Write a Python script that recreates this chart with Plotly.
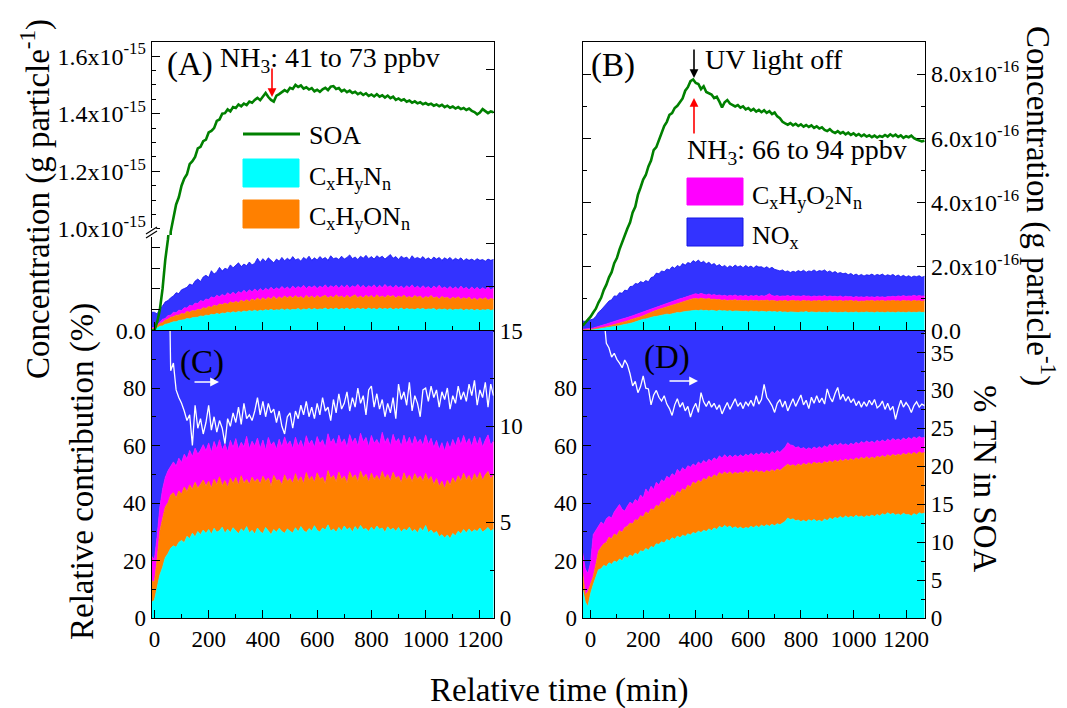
import plotly.graph_objects as go

W, H = 1067, 708
OFF = 8  # the page body margin shifts the figure by this many pixels
def px(x): return (x - OFF) / W
def py(y): return 1 - (y - OFF) / H

# ---------------- time grids (min) ----------------
T_AC = list(range(-10, 1260, 10))   # panels A and C
T_BD = list(range(-30, 1280, 10))   # panels B and D

# ---------------- Panel A (units of 1e-17 g particle^-1) ----------------
A_SOA = [0, 0, 2, 5, 10, 17, 22, 99, 104, 108.5,
         111, 115, 117.5, 119, 122.5, 123.5, 125, 128, 128.5, 130.5,
         131, 133.5, 134, 135, 137.5, 138, 140, 140.2, 141.5, 140.8,
         142.3, 142, 143.2, 142.6, 143.5, 143, 144.2, 143.8, 144.8, 145.5,
         144.7, 146, 147.2, 145.8, 144.8, 144.2, 146.3, 146.8, 147.5, 148.2,
         147.6, 149, 148.6, 150, 149.3, 149.8, 148.7, 149.2, 148.4, 148.9,
         147.8, 148.3, 147.6, 148.5, 149, 148.2, 149.4, 149.6, 148.6, 148.9,
         147.8, 148.3, 147.5, 148, 147.2, 147.6, 146.8, 147.3, 146.5, 147.1,
         146.2, 146.7, 146, 146.8, 145.9, 146.4, 145.6, 146.3, 145.4, 145.9,
         144.8, 145.3, 144.6, 145, 144.2, 144.6, 143.8, 144.3, 143.6, 144,
         143.3, 143.7, 143.1, 143.5, 142.8, 143.2, 142.6, 143.1, 142.3, 142.8,
         142.1, 142.5, 141.8, 142.3, 141.6, 142, 141.3, 141.8, 141, 140.6,
         139.8, 140.4, 141.6, 141, 140.2, 140.8, 140.5]

# cumulative (stacked) tops
A_CUM_CXHYNN = [0.3, 0.3, 0.6, 1.0, 1.1, 1.5, 1.6, 1.9, 2.1, 2.1,
                2.4, 2.5, 2.6, 2.9, 2.8, 3.1, 3.2, 3.2, 3.5, 3.4,
                3.7, 3.6, 3.9, 3.8, 4.1, 3.9, 4.2, 4.1, 4.4, 4.2,
                4.5, 4.3, 4.6, 4.4, 4.7, 4.5, 4.8, 4.6, 4.9, 4.6,
                4.9, 4.7, 5.0, 4.8, 5.1, 4.8, 5.0, 4.9, 5.2, 4.9,
                5.2, 4.9, 5.1, 5.0, 5.3, 4.9, 5.2, 5.0, 5.3, 5.0,
                5.3, 5.0, 5.2, 5.1, 5.4, 5.0, 5.3, 5.1, 5.4, 5.0,
                5.3, 5.1, 5.4, 5.0, 5.3, 5.1, 5.4, 5.1, 5.3, 5.0,
                5.4, 5.1, 5.3, 5.0, 5.4, 5.1, 5.3, 5.1, 5.4, 5.0,
                5.3, 5.1, 5.4, 5.0, 5.3, 5.1, 5.2, 5.0, 5.3, 5.1,
                5.3, 5.0, 5.2, 5.1, 5.3, 4.9, 5.2, 5.0, 5.2, 4.9,
                5.2, 4.9, 5.1, 5.0, 5.2, 4.8, 5.1, 4.9, 5.1, 4.8,
                5.1, 4.8, 5.0, 4.9, 5.1, 4.8, 5.0]
A_CUM_CXHYONN = [0.5, 0.5, 1.0, 1.7, 1.9, 2.5, 2.7, 3.2, 3.3, 3.7,
                 3.7, 4.1, 4.0, 4.6, 4.4, 4.8, 4.7, 5.1, 5.0, 5.5,
                 5.3, 5.8, 5.6, 6.1, 5.9, 6.4, 6.2, 6.6, 6.3, 6.9,
                 6.6, 7.0, 6.7, 7.3, 6.9, 7.4, 7.0, 7.6, 7.2, 7.8,
                 7.3, 7.9, 7.4, 8.0, 7.5, 8.2, 7.6, 8.1, 7.7, 8.3,
                 7.8, 8.3, 7.8, 8.4, 7.9, 8.2, 7.7, 8.5, 7.9, 8.3,
                 7.8, 8.4, 7.9, 8.2, 8.5, 7.8, 8.3, 7.9, 8.6, 8.0,
                 8.3, 7.8, 8.5, 7.9, 8.2, 8.6, 7.9, 8.3, 7.8, 8.5,
                 8.0, 8.4, 7.8, 8.6, 8.0, 8.3, 7.9, 8.5, 8.1, 8.4,
                 7.8, 8.3, 8.0, 8.5, 7.9, 8.2, 7.8, 8.4, 8.0, 8.3,
                 7.7, 8.2, 7.9, 8.4, 7.8, 8.1, 7.6, 8.2, 7.8, 8.0,
                 7.5, 8.0, 7.7, 8.1, 7.5, 7.9, 7.6, 8.0, 7.4, 7.8,
                 7.3, 7.8, 7.5, 7.9, 7.3, 7.7, 7.5]
A_CUM_CXHYO2NN = [0.7, 0.7, 1.4, 2.0, 2.7, 2.9, 3.6, 3.7, 4.4, 4.3,
                  4.9, 4.8, 5.5, 5.4, 6.1, 5.9, 6.6, 6.5, 7.2, 7.0,
                  7.6, 7.4, 8.1, 7.8, 8.5, 8.1, 8.7, 8.3, 9.1, 8.6,
                  9.2, 8.7, 9.4, 9.0, 9.7, 9.1, 9.8, 9.3, 10.0, 9.4,
                  10.1, 9.5, 10.2, 9.7, 10.4, 9.8, 10.3, 9.9, 10.6, 10.0,
                  10.5, 9.9, 10.7, 10.1, 10.6, 10.2, 10.9, 10.1, 10.7, 10.3,
                  10.8, 10.1, 10.7, 10.3, 11.0, 10.2, 10.8, 10.4, 10.9, 10.2,
                  10.9, 10.3, 11.0, 10.2, 10.8, 10.4, 11.1, 10.3, 10.9, 10.2,
                  10.8, 10.4, 11.0, 10.2, 10.9, 10.3, 11.1, 10.4, 10.8, 10.2,
                  10.9, 10.3, 10.7, 10.1, 10.8, 10.3, 11.0, 10.2, 10.7, 10.1,
                  10.8, 10.2, 10.6, 10.0, 10.7, 10.2, 10.9, 10.1, 10.5, 10.0,
                  10.6, 10.0, 10.5, 9.9, 10.7, 10.0, 10.4, 9.8, 10.5, 9.9,
                  10.4, 9.8, 10.3, 9.9, 10.5, 9.8, 10.2]
A_CUM_NOX = [4.4, 4.4, 4.0, 5.3, 5.9, 6.9, 7.2, 7.9, 8.3, 9.1,
             8.9, 9.8, 10.1, 10.4, 11.2, 10.9, 11.9, 12.4, 11.8, 12.9,
             13.3, 12.8, 14.4, 13.6, 14.1, 15.2, 14.3, 15.0, 14.7, 15.8,
             15.1, 15.7, 16.3, 15.4, 16.0, 15.6, 16.5, 15.8, 16.2, 17.4,
             16.4, 17.3, 16.6, 17.5, 16.8, 16.3, 17.2, 16.7, 17.6, 16.8,
             17.4, 16.9, 17.8, 17.0, 17.3, 16.7, 17.6, 17.1, 17.9, 16.9,
             17.5, 17.0, 17.8, 17.2, 17.6, 16.9, 18.0, 17.3, 17.5, 17.1,
             17.9, 17.2, 17.6, 18.2, 17.3, 17.7, 17.1, 17.9, 17.4, 18.1,
             17.3, 17.8, 17.2, 18.0, 17.5, 17.9, 17.2, 17.7, 18.3, 17.4,
             17.8, 17.1, 17.9, 17.4, 17.7, 17.0, 18.0, 17.3, 17.6, 17.2,
             17.8, 17.1, 17.5, 17.0, 17.7, 17.2, 17.6, 16.9, 17.5, 17.1,
             17.6, 16.9, 17.4, 17.0, 17.5, 16.8, 17.3, 16.9, 17.2, 16.8,
             17.3, 16.9, 17.1, 16.7, 17.2, 16.9, 17.1]

# ---------------- Panel C (relative contribution, %) ----------------
C_CUM_CXHYNN = [5.5, 6.2, 10.5, 15.0, 17.6, 21.0, 22.4, 24.3, 25.1, 24.6,
                26.3, 27.0, 26.2, 28.4, 27.6, 29.5, 28.2, 30.1, 29.0, 30.6,
                29.4, 30.8, 29.1, 31.2, 29.8, 30.4, 31.6, 29.5, 30.9, 29.7,
                31.4, 30.2, 29.3, 31.0, 30.1, 31.8, 29.6, 30.5, 29.2, 31.3,
                30.0, 29.4, 31.5, 30.3, 29.0, 30.8, 29.8, 31.2, 30.1, 29.5,
                31.0, 30.2, 29.6, 31.4, 30.0, 31.8, 30.4, 29.7, 31.1, 30.3,
                32.1, 30.5, 29.9, 31.3, 30.6, 32.4, 30.2, 31.0, 29.8, 31.5,
                30.3, 32.0, 30.7, 31.4, 29.9, 31.8, 30.5, 32.2, 30.8, 31.1,
                30.1, 31.6, 30.4, 32.0, 30.9, 31.3, 29.8, 31.7, 30.6, 31.2,
                30.2, 31.5, 29.9, 31.0, 30.4, 31.6, 30.0, 30.8, 29.6, 31.4,
                30.3, 32.2, 29.7, 30.6, 29.4, 30.1, 28.3, 29.0, 27.8, 28.9,
                27.6, 29.4, 28.6, 30.2, 29.3, 30.8, 29.6, 31.0, 29.8, 30.7,
                30.1, 31.3, 29.9, 30.6, 31.5, 30.2, 30.9]
C_CUM_CXHYONN = [13.0, 12.5, 20.4, 30.2, 34.5, 38.6, 40.1, 42.8, 43.6, 41.8,
                 44.2, 43.1, 45.6, 44.0, 46.3, 44.8, 47.2, 45.1, 46.5, 48.0,
                 45.9, 47.6, 45.2, 48.3, 46.4, 49.1, 46.0, 47.8, 45.5, 48.6,
                 46.8, 48.9, 46.2, 49.5, 47.0, 48.2, 46.5, 49.0, 47.3, 48.4,
                 46.6, 49.3, 47.5, 48.7, 45.9, 49.6, 47.8, 48.1, 46.4, 49.8,
                 47.6, 48.5, 46.9, 50.2, 47.4, 49.1, 46.8, 50.6, 48.0, 49.3,
                 47.2, 50.5, 48.3, 49.0, 46.7, 51.3, 48.5, 49.6, 47.4, 50.8,
                 48.1, 49.4, 47.0, 50.9, 48.6, 49.8, 47.5, 51.1, 48.8, 50.0,
                 47.3, 50.4, 48.2, 49.6, 47.8, 51.0, 48.4, 49.9, 47.6, 50.7,
                 48.5, 49.3, 47.1, 50.5, 48.0, 49.7, 47.4, 50.2, 48.3, 49.4,
                 47.6, 50.3, 47.9, 49.2, 46.4, 48.5, 45.8, 47.6, 45.1, 47.9,
                 46.2, 48.8, 47.0, 49.5, 47.7, 50.4, 48.1, 49.6, 47.5, 50.2,
                 48.3, 50.6, 47.9, 49.8, 51.0, 48.4, 49.7]
C_CUM_CXHYO2NN = [21.5, 20.3, 28.4, 38.6, 44.8, 48.9, 51.2, 52.6, 54.3, 52.9,
                  55.6, 54.1, 57.0, 55.4, 58.3, 56.2, 59.1, 57.0, 58.4, 60.3,
                  58.2, 60.9, 57.6, 61.4, 58.8, 62.0, 58.4, 60.6, 57.9, 61.8,
                  59.3, 62.4, 58.7, 61.1, 59.6, 63.2, 58.9, 61.5, 59.8, 62.6,
                  59.0, 61.9, 58.4, 62.8, 60.1, 61.3, 58.7, 62.2, 59.5, 63.0,
                  60.2, 61.6, 58.9, 62.9, 59.7, 61.8, 59.1, 63.4, 60.4, 61.9,
                  59.4, 63.1, 60.6, 62.0, 59.2, 64.1, 60.9, 62.4, 59.8, 63.6,
                  60.7, 62.3, 59.5, 63.8, 61.0, 62.6, 59.9, 64.3, 61.2, 62.8,
                  59.6, 63.5, 60.8, 62.1, 60.2, 64.6, 61.0, 62.7, 59.8, 63.9,
                  61.1, 62.4, 59.7, 63.6, 60.5, 62.9, 59.9, 63.2, 60.8, 62.2,
                  60.0, 63.7, 60.4, 62.5, 59.3, 61.8, 58.6, 61.0, 58.1, 61.4,
                  59.0, 62.1, 59.8, 62.9, 60.3, 63.5, 60.6, 62.4, 59.7, 63.3,
                  60.2, 62.8, 59.5, 61.9, 63.7, 60.1, 61.6]
C_CUM_NOX = [100.0 for _ in T_AC]   # the four groups add up to 100 %
C_TN = [None, None, None, None, None, None, 22.0, 12.9, 13.3, 11.9,
        11.5, 11.2, 10.8, 10.3, 10.6, 9.0, 11.1, 9.9, 10.4, 9.6,
        10.2, 11.1, 9.8, 10.5, 9.7, 10.3, 9.9, 9.1, 10.4, 10.0,
        10.7, 10.2, 11.0, 10.1, 11.2, 10.4, 10.6, 10.3, 10.8, 11.5,
        10.6, 11.3, 10.5, 11.2, 10.7, 10.9, 10.2, 10.8, 10.0, 9.6,
        10.5, 10.7, 9.9, 10.8, 10.4, 11.1, 10.6, 11.3, 10.5, 11.0,
        10.4, 11.2, 10.6, 11.5, 10.8, 11.0, 10.3, 11.4, 10.7, 11.7,
        10.9, 11.2, 11.8, 10.8, 11.5, 11.0, 12.0, 11.2, 11.6, 10.6,
        11.9, 12.1, 11.0, 11.7, 10.9, 11.4, 10.5, 11.2, 10.7, 11.5,
        10.4, 12.2, 11.4, 11.8, 11.1, 12.3, 10.8, 11.6, 11.2, 10.5,
        11.9, 12.0, 11.3, 12.1, 11.5, 11.9, 11.0, 11.8, 11.4, 12.0,
        10.9, 11.6, 11.2, 12.1, 11.4, 11.8, 11.3, 12.2, 11.6, 12.4,
        11.1, 11.9, 11.5, 12.3, 11.0, 12.2, 11.6]

# ---------------- Panel B (units of 1e-17 g particle^-1) ----------------
B_SOA = [1.5, 2.5, 3.2, 4.3, 5.6, 6.8, 8.7, 10.2, 12.6, 14.3,
         16.6, 18.2, 21.0, 22.6, 25.3, 27.6, 29.2, 31.8, 33.7, 36.8,
         38.6, 42.3, 44.6, 47.1, 48.5, 51.2, 53.0, 56.3, 57.2, 59.4,
         61.0, 63.8, 65.1, 67.3, 67.8, 69.4, 70.1, 71.3, 72.4, 74.8,
         75.9, 77.8, 78.3, 77.2, 76.9, 75.3, 76.2, 74.4, 74.1, 73.6,
         72.5, 72.9, 71.4, 69.6, 71.2, 71.9, 70.8, 70.4, 69.9, 70.3,
         69.5, 69.9, 69.0, 69.4, 68.6, 69.1, 68.3, 68.8, 68.1, 68.7,
         67.9, 68.4, 67.5, 68.0, 66.8, 66.2, 65.1, 64.6, 64.2, 64.7,
         64.0, 64.5, 63.8, 64.3, 63.6, 64.1, 63.5, 64.0, 63.2, 63.7,
         63.0, 63.4, 62.6, 62.2, 62.8, 62.0, 61.6, 62.2, 61.5, 61.9,
         61.2, 61.7, 61.0, 61.5, 60.8, 61.3, 60.6, 61.1, 60.5, 60.9,
         60.3, 60.8, 60.2, 60.7, 60.4, 61.0, 60.5, 61.2, 60.6, 61.1,
         60.4, 60.9, 60.1, 60.6, 60.3, 60.8, 60.0, 59.6, 59.4, 59.0,
         59.2]
B_CUM_CXHYNN = [0.1, 0.1, 0.2, 0.2, 0.3, 0.4, 0.5, 0.6, 0.7, 0.8,
                0.9, 1.1, 1.2, 1.3, 1.5, 1.7, 1.8, 2.0, 2.2, 2.4,
                2.7, 2.9, 3.2, 3.5, 3.6, 3.9, 4.0, 4.3, 4.4, 4.6,
                4.7, 4.9, 5.1, 5.0, 5.3, 5.4, 5.6, 5.5, 5.8, 5.9,
                6.0, 6.2, 6.1, 6.3, 6.2, 6.4, 6.2, 6.3, 6.1, 6.3,
                6.2, 6.0, 6.3, 6.1, 6.2, 6.0, 6.2, 5.9, 6.1, 6.0,
                6.1, 5.9, 6.0, 5.8, 6.1, 5.9, 6.0, 5.8, 6.0, 5.9,
                5.8, 6.0, 5.8, 5.9, 5.7, 5.9, 5.7, 5.8, 5.6, 5.8,
                5.7, 5.8, 5.6, 5.8, 5.7, 5.9, 5.6, 5.8, 5.7, 5.6,
                5.8, 5.6, 5.7, 5.5, 5.8, 5.6, 5.7, 5.5, 5.7, 5.6,
                5.8, 5.5, 5.7, 5.6, 5.8, 5.5, 5.7, 5.6, 5.8, 5.6,
                5.7, 5.5, 5.8, 5.6, 5.7, 5.5, 5.8, 5.6, 5.7, 5.5,
                5.8, 5.6, 5.7, 5.5, 5.8, 5.6, 5.7, 5.6, 5.8, 5.6,
                5.7]
B_CUM_CXHYONN = [0.2, 0.2, 0.3, 0.4, 0.5, 0.6, 0.8, 0.9, 1.1, 1.2,
                 1.4, 1.6, 1.8, 2.1, 2.3, 2.6, 2.8, 3.0, 3.3, 3.5,
                 3.8, 4.0, 4.3, 4.6, 5.0, 5.3, 5.7, 6.0, 6.3, 6.6,
                 6.9, 7.1, 7.4, 7.6, 7.9, 8.1, 8.4, 8.6, 8.9, 9.1,
                 9.4, 9.7, 9.9, 10.0, 9.8, 10.1, 9.9, 9.8, 10.0, 9.7,
                 9.8, 9.6, 9.7, 9.4, 9.6, 9.3, 9.5, 9.4, 9.6, 9.3,
                 9.5, 9.3, 9.4, 9.2, 9.5, 9.3, 9.4, 9.2, 9.4, 9.3,
                 9.5, 9.2, 9.4, 9.3, 9.1, 9.3, 9.2, 9.4, 9.1, 9.3,
                 9.4, 9.2, 9.3, 9.1, 9.4, 9.2, 9.3, 9.1, 9.3, 9.2,
                 9.4, 9.1, 9.3, 9.2, 9.4, 9.1, 9.3, 9.2, 9.4, 9.1,
                 9.3, 9.2, 9.4, 9.1, 9.3, 9.0, 9.2, 9.1, 9.3, 9.2,
                 9.4, 9.1, 9.3, 9.2, 9.4, 9.1, 9.3, 9.2, 9.4, 9.2,
                 9.3, 9.1, 9.4, 9.2, 9.3, 9.1, 9.4, 9.2, 9.3, 9.1,
                 9.3]
B_CUM_CXHYO2NN = [0.4, 0.4, 0.5, 0.6, 0.8, 1.0, 1.2, 1.5, 1.7, 2.0,
                  2.3, 2.6, 2.8, 3.1, 3.3, 3.6, 3.8, 4.0, 4.3, 4.6,
                  4.9, 5.2, 5.5, 5.9, 6.2, 6.5, 6.8, 7.1, 7.4, 7.7,
                  8.0, 8.3, 8.5, 8.8, 9.1, 9.3, 9.6, 9.9, 10.1, 10.4,
                  10.6, 10.9, 11.2, 11.5, 11.2, 11.6, 11.3, 11.1, 11.4, 11.0,
                  11.2, 10.9, 11.1, 10.8, 11.0, 10.7, 11.0, 10.8, 11.1, 10.7,
                  10.9, 10.7, 11.0, 10.6, 10.9, 10.7, 11.0, 10.6, 10.9, 10.7,
                  11.0, 11.5, 10.9, 10.7, 10.9, 10.6, 10.8, 10.7, 10.9, 10.6,
                  10.9, 10.7, 10.8, 10.6, 10.9, 10.7, 10.8, 10.5, 10.8, 10.6,
                  10.8, 10.6, 10.9, 10.5, 10.8, 10.6, 10.7, 10.5, 10.8, 10.4,
                  10.7, 10.5, 10.6, 10.3, 10.6, 10.4, 10.5, 10.3, 10.6, 10.4,
                  10.5, 10.3, 10.6, 10.4, 10.5, 10.3, 10.6, 10.5, 10.7, 10.5,
                  10.8, 10.6, 10.9, 10.6, 10.8, 10.7, 11.0, 10.7, 10.9, 10.7,
                  10.8]
B_CUM_NOX = [3.0, 2.8, 3.1, 3.3, 3.6, 4.4, 5.7, 6.4, 7.4, 8.1,
             9.2, 9.6, 10.8, 10.7, 11.8, 11.6, 12.6, 12.4, 13.7, 13.8,
             14.7, 14.5, 15.3, 14.9, 15.6, 15.2, 16.5, 16.8, 17.9, 17.7,
             18.6, 18.3, 19.2, 18.9, 19.9, 19.4, 20.3, 19.8, 20.9, 20.4,
             21.2, 20.9, 21.8, 21.3, 22.0, 21.1, 21.6, 20.8, 21.3, 20.5,
             20.9, 20.1, 20.6, 19.8, 20.3, 19.6, 20.2, 19.7, 20.4, 19.8,
             20.2, 19.6, 20.3, 19.7, 20.1, 19.5, 20.2, 19.8, 19.9, 19.4,
             19.9, 19.3, 19.7, 19.1, 18.9, 18.6, 18.9, 18.3, 18.6, 18.1,
             18.5, 18.2, 18.7, 18.3, 18.8, 18.2, 18.6, 18.4, 18.9, 18.3,
             18.7, 18.5, 18.9, 18.2, 18.6, 18.0, 18.4, 17.8, 18.1, 17.7,
             17.9, 17.4, 17.8, 17.2, 17.6, 17.1, 17.5, 17.0, 17.4, 17.2,
             17.6, 17.1, 17.5, 17.2, 17.6, 17.0, 17.4, 17.1, 17.5, 16.9,
             17.3, 16.8, 17.2, 16.7, 17.1, 16.6, 17.0, 16.8, 17.1, 16.6,
             16.9]

# ---------------- Panel D (relative contribution, %) ----------------
D_CUM_CXHYNN = [9.8, 5.5, 4.0, 8.5, 11.6, 14.2, 16.8, 17.1, 18.3, 17.9,
                19.2, 18.7, 19.8, 19.4, 20.5, 19.9, 21.3, 20.8, 21.9, 21.4,
                22.6, 22.0, 23.4, 23.1, 24.2, 23.6, 24.9, 24.5, 25.8, 25.6,
                26.5, 26.1, 27.3, 26.8, 27.9, 27.4, 28.5, 27.9, 28.8, 28.4,
                29.3, 28.9, 29.7, 29.4, 30.2, 29.7, 30.5, 30.1, 31.0, 30.4,
                31.3, 30.8, 31.9, 31.3, 32.2, 31.5, 32.0, 31.2, 31.7, 31.1,
                31.6, 31.0, 31.5, 31.2, 31.9, 31.4, 32.1, 31.5, 32.3, 31.8,
                32.4, 31.9, 32.6, 32.1, 32.8, 32.4, 33.1, 33.6, 34.8, 34.2,
                34.5, 33.8, 34.1, 33.5, 34.0, 33.4, 34.2, 33.7, 34.3, 33.6,
                34.0, 33.5, 34.4, 33.9, 34.8, 34.3, 35.0, 34.6, 35.3, 34.7,
                35.5, 34.9, 35.4, 35.0, 35.7, 35.1, 35.5, 35.0, 35.6, 35.2,
                35.8, 35.3, 36.0, 35.5, 36.3, 35.8, 36.6, 36.0, 36.4, 35.8,
                36.2, 35.7, 36.4, 35.9, 36.0, 35.5, 36.3, 35.8, 36.6, 36.2,
                36.5]
D_CUM_CXHYONN = [15.6, 8.0, 9.2, 11.5, 14.4, 18.6, 23.2, 24.6, 25.8, 26.3,
                 28.1, 27.6, 29.2, 28.7, 30.4, 29.8, 31.5, 31.9, 33.0, 32.8,
                 34.2, 34.0, 35.6, 35.1, 36.9, 36.3, 38.0, 37.6, 39.2, 38.8,
                 40.6, 40.1, 41.8, 41.2, 42.9, 42.3, 44.1, 43.5, 45.0, 44.4,
                 46.2, 45.6, 47.3, 46.7, 47.9, 47.2, 48.6, 48.0, 49.4, 48.7,
                 49.8, 49.2, 50.6, 49.9, 50.8, 50.1, 50.9, 50.0, 50.7, 50.2,
                 50.8, 50.3, 51.2, 50.5, 51.3, 50.6, 51.4, 50.7, 51.1, 50.5,
                 51.3, 50.8, 51.6, 51.0, 51.8, 51.3, 52.1, 52.6, 53.5, 52.9,
                 53.3, 52.8, 53.6, 53.0, 53.8, 53.2, 54.0, 53.4, 54.2, 53.7,
                 54.1, 53.6, 54.4, 53.9, 54.7, 54.1, 54.9, 54.3, 55.1, 54.5,
                 55.3, 54.7, 55.4, 54.9, 55.7, 55.1, 55.9, 55.3, 56.1, 55.4,
                 56.0, 55.5, 56.3, 55.8, 56.5, 55.9, 56.8, 56.2, 56.9, 56.4,
                 57.0, 56.5, 57.3, 56.7, 57.5, 56.9, 57.6, 57.0, 57.8, 57.3,
                 57.6]
D_CUM_CXHYO2NN = [22.6, 17.0, 15.6, 19.2, 29.0, 30.4, 32.1, 33.4, 32.6, 34.5,
                  35.3, 34.8, 36.9, 38.2, 39.5, 37.8, 37.2, 38.9, 40.3, 39.6,
                  41.2, 40.5, 42.8, 41.7, 44.9, 43.6, 45.8, 44.7, 47.2, 46.3,
                  48.1, 47.4, 49.3, 48.6, 50.2, 49.5, 51.7, 50.6, 52.3, 51.4,
                  53.0, 52.4, 53.6, 52.9, 54.3, 53.5, 54.8, 54.0, 55.2, 54.5,
                  55.7, 55.0, 56.4, 55.6, 56.8, 55.8, 56.6, 55.9, 56.7, 56.0,
                  56.8, 56.1, 57.0, 56.4, 57.2, 56.5, 57.3, 56.7, 57.6, 56.9,
                  57.5, 56.8, 57.9, 57.2, 58.3, 57.6, 58.7, 59.4, 61.0, 60.2,
                  60.0, 59.2, 59.6, 58.8, 59.3, 58.6, 59.2, 58.7, 59.5, 58.9,
                  59.6, 59.0, 59.9, 59.3, 60.4, 59.8, 60.6, 60.0, 60.8, 60.1,
                  60.6, 60.0, 60.8, 60.3, 61.1, 60.5, 61.4, 60.8, 61.6, 61.0,
                  61.5, 60.9, 61.8, 61.2, 61.9, 61.3, 62.2, 61.6, 62.4, 61.8,
                  62.3, 61.7, 62.6, 62.0, 62.8, 62.2, 63.0, 62.4, 63.1, 62.6,
                  62.9]
D_CUM_NOX = [100.0 for _ in T_BD]
D_TN = [None, None, None, None, None, None, None, None, 40.0, 36.2,
        35.6, 34.4, 34.9, 34.1, 33.6, 33.0, 34.0, 33.4, 32.2, 30.6,
        31.2, 29.7, 30.5, 31.9, 30.3, 30.2, 28.1, 29.4, 30.0, 29.1,
        28.6, 29.3, 28.2, 27.6, 26.7, 28.1, 28.9, 27.8, 28.4, 27.3,
        27.9, 26.5, 27.6, 28.3, 27.1, 29.7, 28.5, 27.9, 28.6, 27.8,
        28.3, 27.5, 28.1, 26.9, 27.7, 28.4, 27.5, 28.2, 28.9, 27.9,
        28.4, 27.6, 28.5, 28.0, 28.7, 27.9, 29.3, 28.2, 28.8, 30.8,
        29.1, 28.6, 28.0, 27.1, 28.3, 28.8, 27.8, 28.6, 27.3, 28.1,
        28.9, 27.9, 28.6, 29.4, 28.1, 28.7, 27.6, 29.1, 28.3, 29.3,
        28.4, 29.0, 28.2, 30.2, 29.1, 28.5, 29.6, 30.4, 28.8, 29.5,
        28.6, 29.2, 28.4, 28.9, 28.0, 28.6, 27.8, 28.5, 27.9, 28.7,
        28.1, 28.8, 27.7, 28.0, 28.6, 27.5, 28.3, 27.4, 27.9, 26.2,
        27.6, 28.7, 27.8, 28.4, 27.9, 27.1, 28.0, 28.5, 27.8, 28.2,
        28.0]

# axis tick labels
A_UP_TICKS = [100, 120, 140, 160]
A_UP_LABELS = ["1.0x10<sup>-15</sup>", "1.2x10<sup>-15</sup>", "1.4x10<sup>-15</sup>", "1.6x10<sup>-15</sup>"]
A_LOW_TICKS = [0, 5, 10, 15, 20]
A_LOW_LABELS = ["0.0", "", "", "", ""]
A_RIGHT_TICKS = [0, 1, 2, 3, 4, 5, 6]
B_TICKS = [0, 20, 40, 60, 80]
B_LABELS = ["0.0", "2.0x10<sup>-16</sup>", "4.0x10<sup>-16</sup>", "6.0x10<sup>-16</sup>", "8.0x10<sup>-16</sup>"]
PCT_TICKS = [0, 20, 40, 60, 80, 100]
PCT_LABELS = ["0", "20", "40", "60", "80", ""]
C_TN_TICKS = [0, 5, 10, 15]
D_TN_TICKS = [0, 5, 10, 15, 20, 25, 30, 35]

CYAN = "rgb(0,255,255)"
ORANGE = "rgb(255,128,0)"
MAGENTA = "rgb(255,0,255)"
BLUE = "rgb(51,51,255)"
GREEN = "rgb(0,128,0)"
SERIF = "Liberation Serif, Times New Roman, serif"
COLS = [CYAN, ORANGE, MAGENTA, BLUE]

fig = go.Figure()

def stack(t, cums, xa, ya):
    for i, (c, col) in enumerate(zip(cums, COLS)):
        edge = "rgb(20,20,240)" if col == BLUE else col
        fig.add_trace(go.Scatter(
            x=t[:len(c)], y=c, xaxis=xa, yaxis=ya, mode="lines",
            line=dict(color=edge, width=0.8),
            fill="tozeroy" if i == 0 else "tonexty", fillcolor=col,
            showlegend=False, hoverinfo="skip"))

def line(t, y, xa, ya, color, width):
    fig.add_trace(go.Scatter(x=t[:len(y)], y=y, xaxis=xa, yaxis=ya, mode="lines",
                             line=dict(color=color, width=width), connectgaps=False,
                             showlegend=False, hoverinfo="skip"))

# A lower
stack(T_AC, [A_CUM_CXHYNN, A_CUM_CXHYONN, A_CUM_CXHYO2NN, A_CUM_NOX], "x", "y")
line(T_AC, A_SOA, "x", "y", GREEN, 2.6)
# A upper
line(T_AC, A_SOA, "x5", "y5", GREEN, 2.6)
# C
stack(T_AC, [C_CUM_CXHYNN, C_CUM_CXHYONN, C_CUM_CXHYO2NN, C_CUM_NOX], "x2", "y2")
line(T_AC, C_TN, "x2", "y6", "white", 1.3)
# B
stack(T_BD, [B_CUM_CXHYNN, B_CUM_CXHYONN, B_CUM_CXHYO2NN, B_CUM_NOX], "x3", "y3")
line(T_BD, B_SOA, "x3", "y3", GREEN, 2.6)
# D
stack(T_BD, [D_CUM_CXHYNN, D_CUM_CXHYONN, D_CUM_CXHYO2NN, D_CUM_NOX], "x4", "y4")
line(T_BD, D_TN, "x4", "y7", "white", 1.3)
# empty trace that carries the plain tick row on the right side of panel A
fig.add_trace(go.Scatter(x=[], y=[], xaxis="x", yaxis="y8", showlegend=False, hoverinfo="skip"))

def tf(size):
    return dict(family=SERIF, size=size, color="black")
base = dict(showline=True, linecolor="black", linewidth=1.2, ticks="inside", ticklen=8,
            tickwidth=1.2, tickcolor="black", showgrid=False, zeroline=False,
            tickfont=tf(23), automargin=False)
def minor(d, t0=0):
    return dict(tickmode="linear", tick0=t0, dtick=d, ticks="inside", ticklen=4,
                tickwidth=1.1, tickcolor="black", showgrid=False)

xA = [px(151.7), px(494)]
xB = [px(582.7), px(925)]
yA_low = [py(330.5), py(235)]
yA_up = [py(235), py(42)]
yTop = [py(330.5), py(42)]
yBot = [py(618), py(330.5)]
XR_AC = [-10, 1252]
XR_BD = [-30, 1272]

fig.update_layout(
    template="none",
    width=W, height=H, autosize=False, margin=dict(l=0, r=0, t=0, b=0, pad=0),
    paper_bgcolor="white", plot_bgcolor="rgba(0,0,0,0)", showlegend=False,
    font=dict(family=SERIF, color="black"),
    xaxis=dict(base, domain=xA, range=XR_AC, anchor="y", showticklabels=False,
               tickmode="linear", tick0=0, dtick=200, minor=minor(100)),
    xaxis5=dict(base, domain=xA, range=XR_AC, anchor="y5", matches="x", side="top",
                ticks="", showticklabels=False),
    xaxis2=dict(base, domain=xA, range=XR_AC, anchor="y2", mirror=True,
                tickmode="linear", tick0=0, dtick=200, minor=minor(100)),
    xaxis3=dict(base, domain=xB, range=XR_BD, anchor="y3", mirror=True, showticklabels=False,
                tickmode="linear", tick0=0, dtick=200, minor=minor(100)),
    xaxis4=dict(base, domain=xB, range=XR_BD, anchor="y4", mirror=True,
                tickmode="linear", tick0=0, dtick=200, minor=minor(100)),
    yaxis=dict(base, domain=yA_low, range=[0, 23], anchor="x", mirror=True, tickfont=tf(24),
               tickmode="array", tickvals=A_LOW_TICKS, ticktext=A_LOW_LABELS),
    yaxis5=dict(base, domain=yA_up, range=[97.9, 164.9], anchor="x5", mirror=True, tickfont=tf(24),
                tickmode="array", tickvals=A_UP_TICKS, ticktext=A_UP_LABELS, minor=minor(5)),
    yaxis8=dict(base, domain=yTop, range=[0, 6.62], anchor="x", side="right", showline=False,
                showticklabels=False, tickmode="array", tickvals=A_RIGHT_TICKS),
    yaxis2=dict(base, domain=yBot, range=[0, 100], anchor="x2",
                tickmode="array", tickvals=PCT_TICKS, ticktext=PCT_LABELS, minor=minor(10)),
    yaxis6=dict(base, overlaying="y2", side="right", anchor="x2", range=[0, 15],
                tickmode="array", tickvals=C_TN_TICKS, minor=minor(2.5)),
    yaxis3=dict(base, domain=yTop, range=[0, 90], anchor="x3", side="right", mirror="ticks",
                tickfont=tf(24), tickmode="array", tickvals=B_TICKS, ticktext=B_LABELS,
                minor=minor(10)),
    yaxis4=dict(base, domain=yBot, range=[0, 100], anchor="x4",
                tickmode="array", tickvals=PCT_TICKS, ticktext=PCT_LABELS, minor=minor(10)),
    yaxis7=dict(base, overlaying="y4", side="right", anchor="x4", range=[0, 37.9],
                tickmode="array", tickvals=D_TN_TICKS, minor=minor(2.5)),
)

ann = []
def text(x, y, s, size, xanchor="center", angle=0, color="black"):
    ann.append(dict(x=px(x), y=py(y), xref="paper", yref="paper", text=s, showarrow=False,
                    xanchor=xanchor, yanchor="middle", textangle=angle,
                    font=dict(family=SERIF, size=size, color=color)))
def arrow(x, y, ax, ay, color):
    ann.append(dict(x=px(x), y=py(y), xref="paper", yref="paper", text="", showarrow=True,
                    ax=ax, ay=ay, arrowcolor=color, arrowhead=2, arrowsize=1.1,
                    arrowwidth=1.6, standoff=0, startstandoff=0))

# panel labels and notes
text(190, 64, "(A)", 33)
text(218, 60, "NH<sub>3</sub>: 41 to 73 ppbv", 28, "left")
arrow(272, 97, 0, -30, "red")
text(613, 66, "(B)", 33)
text(703, 59, "UV light off", 28, "left")
arrow(694, 78, 0, -30, "black")
arrow(694, 98, 0, 37, "red")
text(685, 151, "NH<sub>3</sub>: 66 to 94 ppbv", 28, "left")
text(202, 362, "(C)", 33)
arrow(219, 382, -26, 0, "white")
text(667, 358, "(D)", 33)
arrow(698, 381, -30, 0, "white")

# legend entries
text(307, 135, "SOA", 26, "left")
text(307, 178, "C<sub>x</sub>H<sub>y</sub>N<sub>n</sub>", 26, "left")
text(307, 218, "C<sub>x</sub>H<sub>y</sub>ON<sub>n</sub>", 26, "left")
text(750, 197, "C<sub>x</sub>H<sub>y</sub>O<sub>2</sub>N<sub>n</sub>", 26, "left")
text(750, 237, "NO<sub>x</sub>", 26, "left")

# axis titles
text(35, 199, "Concentration (g particle<sup>-1</sup>)", 33, angle=-90)
text(83, 472, "Relative contribution (%)", 33, angle=-90)
text(1040, 206, "Concentration (g particle<sup>-1</sup>)", 33, angle=90)
text(985, 478, "% TN in SOA", 33, angle=90)
text(559, 690, "Relative time (min)", 33)

shapes = []
def rect(x0, y0, x1, y1, fill, edge=None):
    shapes.append(dict(type="rect", xref="paper", yref="paper", x0=px(x0), x1=px(x1),
                       y0=py(y1), y1=py(y0), fillcolor=fill,
                       line=dict(color=edge or fill, width=1)))
def seg(x0, y0, x1, y1, color, width):
    shapes.append(dict(type="line", xref="paper", yref="paper", x0=px(x0), x1=px(x1),
                       y0=py(y0), y1=py(y1), line=dict(color=color, width=width)))

seg(243, 134, 300, 134, GREEN, 3)
rect(243, 159, 299, 187, CYAN)
rect(243, 200, 299, 228, ORANGE)
rect(687, 178, 743, 205, MAGENTA)
rect(687, 218, 743, 246, BLUE, "rgb(20,20,230)")
# axis break marks
rect(148, 228.5, 156, 236.5, "white", "white")
seg(146, 238, 157, 231, "black", 1.2)
seg(146, 234, 157, 227, "black", 1.2)

fig.update_layout(annotations=ann, shapes=shapes)
fig.write_html("out.html")
